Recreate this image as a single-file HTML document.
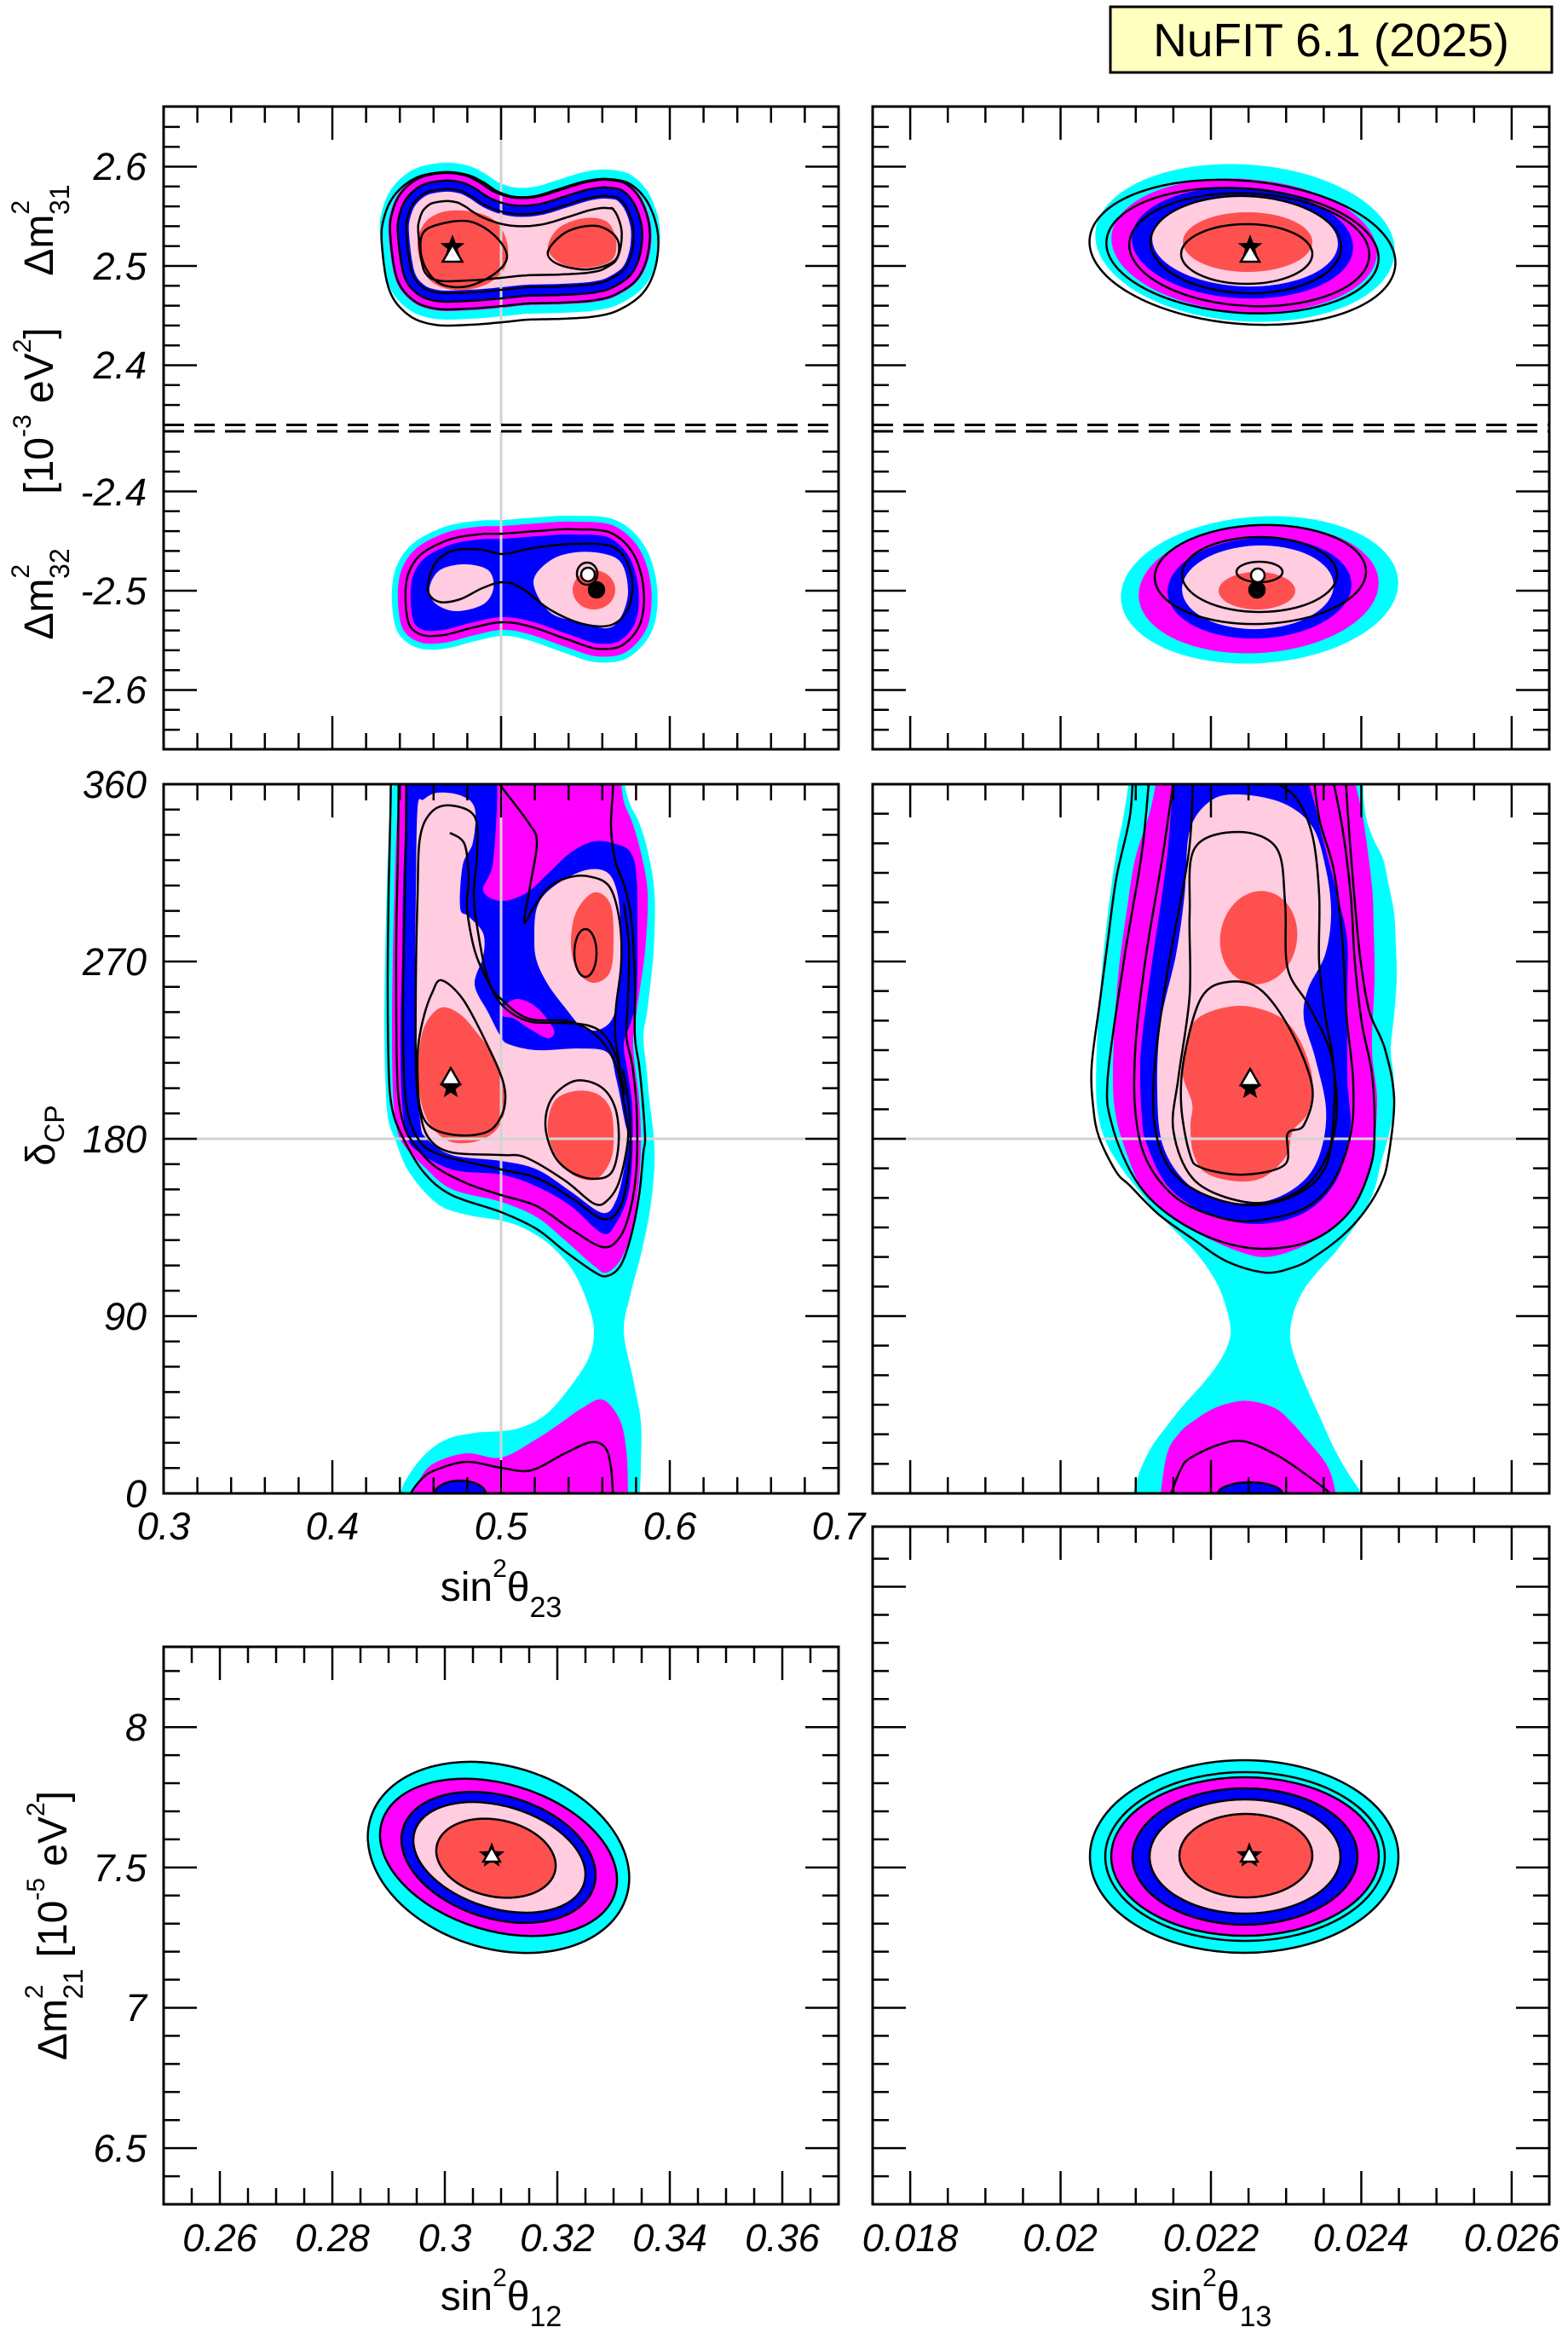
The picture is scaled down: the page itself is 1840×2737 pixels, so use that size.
<!DOCTYPE html>
<html><head><meta charset="utf-8">
<style>
html,body{margin:0;padding:0;background:#fff;}
svg{display:block;}
text{font-family:"Liberation Sans",Arial,sans-serif;fill:#000;}
.tl{font-style:italic;font-size:45px;}
.ax{font-size:48px;}
</style></head><body>
<svg id="s" xmlns="http://www.w3.org/2000/svg" width="1840" height="2737" viewBox="0 0 1840 2737">
<defs>
<clipPath id="cA"><rect x="192" y="125" width="792" height="373"/></clipPath>
<clipPath id="cB"><rect x="192" y="506" width="792" height="373"/></clipPath>
<clipPath id="cC"><rect x="1024" y="125" width="794" height="373"/></clipPath>
<clipPath id="cD"><rect x="1024" y="506" width="794" height="373"/></clipPath>
<clipPath id="cE"><rect x="192" y="920" width="792" height="832"/></clipPath>
<clipPath id="cF"><rect x="1024" y="920" width="794" height="832"/></clipPath>
<clipPath id="cG"><rect x="192" y="1932" width="792" height="654"/></clipPath>
<clipPath id="cH"><rect x="1024" y="1791" width="794" height="795"/></clipPath>
</defs>
<rect x="0" y="0" width="1840" height="2737" fill="#fff"/>
<g id="gA" clip-path="url(#cA)"></g>
<g id="gB" clip-path="url(#cB)"></g>
<g id="gC" clip-path="url(#cC)"></g>
<g id="gD" clip-path="url(#cD)"></g>
<g id="gE" clip-path="url(#cE)"></g>
<g id="gF" clip-path="url(#cF)"></g>
<g id="gG" clip-path="url(#cG)"></g>
<g id="gH" clip-path="url(#cH)"></g>
<g id="frames" fill="none" stroke="#000" stroke-linecap="butt"></g>

<!-- title box -->
<rect x="1303" y="8" width="518" height="77" fill="#ffffc0" stroke="#000" stroke-width="3"/>
<text x="1562" y="66" text-anchor="middle" font-size="55">NuFIT 6.1 (2025)</text>

<!-- top-left y labels -->
<text class="tl" x="172" y="211" text-anchor="end">2.6</text>
<text class="tl" x="172" y="328" text-anchor="end">2.5</text>
<text class="tl" x="172" y="444" text-anchor="end">2.4</text>
<text class="tl" x="172" y="593" text-anchor="end">-2.4</text>
<text class="tl" x="172" y="709" text-anchor="end">-2.5</text>
<text class="tl" x="172" y="825" text-anchor="end">-2.6</text>

<!-- middle-left y labels -->
<text class="tl" x="172" y="936" text-anchor="end">360</text>
<text class="tl" x="172" y="1144" text-anchor="end">270</text>
<text class="tl" x="172" y="1352" text-anchor="end">180</text>
<text class="tl" x="172" y="1560" text-anchor="end">90</text>
<text class="tl" x="172" y="1768" text-anchor="end">0</text>

<!-- middle-left x labels -->
<text class="tl" x="192" y="1806" text-anchor="middle">0.3</text>
<text class="tl" x="390" y="1806" text-anchor="middle">0.4</text>
<text class="tl" x="588" y="1806" text-anchor="middle">0.5</text>
<text class="tl" x="786" y="1806" text-anchor="middle">0.6</text>
<text class="tl" x="984" y="1806" text-anchor="middle">0.7</text>

<!-- bottom-left y labels -->
<text class="tl" x="172" y="2042" text-anchor="end">8</text>
<text class="tl" x="172" y="2207" text-anchor="end">7.5</text>
<text class="tl" x="172" y="2371" text-anchor="end">7</text>
<text class="tl" x="172" y="2536" text-anchor="end">6.5</text>

<!-- bottom-left x labels -->
<text class="tl" x="258" y="2641" text-anchor="middle">0.26</text>
<text class="tl" x="390" y="2641" text-anchor="middle">0.28</text>
<text class="tl" x="522" y="2641" text-anchor="middle">0.3</text>
<text class="tl" x="654" y="2641" text-anchor="middle">0.32</text>
<text class="tl" x="786" y="2641" text-anchor="middle">0.34</text>
<text class="tl" x="918" y="2641" text-anchor="middle">0.36</text>

<!-- bottom-right x labels -->
<text class="tl" x="1068" y="2641" text-anchor="middle">0.018</text>
<text class="tl" x="1244" y="2641" text-anchor="middle">0.02</text>
<text class="tl" x="1421" y="2641" text-anchor="middle">0.022</text>
<text class="tl" x="1597" y="2641" text-anchor="middle">0.024</text>
<text class="tl" x="1774" y="2641" text-anchor="middle">0.026</text>

<!-- x axis titles -->
<text class="ax" x="588" y="1878" text-anchor="middle">sin<tspan font-size="30" dy="-28">2</tspan><tspan dy="28">θ</tspan><tspan font-size="34" dy="19">23</tspan></text>
<text class="ax" x="588" y="2710" text-anchor="middle">sin<tspan font-size="30" dy="-28">2</tspan><tspan dy="28">θ</tspan><tspan font-size="34" dy="19">12</tspan></text>
<text class="ax" x="1421" y="2710" text-anchor="middle">sin<tspan font-size="30" dy="-28">2</tspan><tspan dy="28">θ</tspan><tspan font-size="34" dy="19">13</tspan></text>

<!-- y axis titles (rotated) -->
<text class="ax" text-anchor="middle" transform="translate(62,270) rotate(-90)">Δm<tspan font-size="30" dy="-28">2</tspan><tspan font-size="32" dx="-17" dy="47">31</tspan></text>
<text class="ax" text-anchor="middle" transform="translate(62,482) rotate(-90)">[10<tspan font-size="30" dy="-26">-3</tspan><tspan dy="26"> eV</tspan><tspan font-size="30" dy="-26">2</tspan><tspan dy="26">]</tspan></text>
<text class="ax" text-anchor="middle" transform="translate(62,697) rotate(-90)">Δm<tspan font-size="30" dy="-28">2</tspan><tspan font-size="32" dx="-17" dy="47">32</tspan></text>
<text class="ax" text-anchor="middle" transform="translate(64,1332) rotate(-90)">δ<tspan font-size="32" dy="11">CP</tspan></text>
<text class="ax" text-anchor="middle" transform="translate(78,2259) rotate(-90)">Δm<tspan font-size="30" dy="-28">2</tspan><tspan font-size="32" dx="-17" dy="47">21</tspan><tspan dy="-19"> [10</tspan><tspan font-size="30" dy="-26">-5</tspan><tspan dy="26"> eV</tspan><tspan font-size="30" dy="-26">2</tspan><tspan dy="26">]</tspan></text>
</svg>
<script>
(function(){
var NS='http://www.w3.org/2000/svg';
var C='#00ffff',M='#ff00ff',B='#0000ff',P='#ffcce0',R='#ff5050',K='#000',GR='#d3d3d3';
function $(id){return document.getElementById(id);}
function add(par,tag,at){var e=document.createElementNS(NS,tag);for(var k in at)e.setAttribute(k,at[k]);par.appendChild(e);return e;}
function ctrl(p,cl){var n=p.length,s=[],N=cl?n:n-1;for(var i=0;i<N;i++){var p0=p[cl?(i-1+n)%n:Math.max(0,i-1)],p1=p[i],p2=p[(i+1)%n],p3=p[cl?(i+2)%n:Math.min(n-1,i+2)];s.push([p1,[p1[0]+(p2[0]-p0[0])/6,p1[1]+(p2[1]-p0[1])/6],[p2[0]-(p3[0]-p1[0])/6,p2[1]-(p3[1]-p1[1])/6],p2]);}return s;}
function f(v){return (+v).toFixed(1);}
function bez(p,cl){var s=ctrl(p,cl);var d='M'+f(s[0][0][0])+' '+f(s[0][0][1]);for(var i=0;i<s.length;i++){var q=s[i];d+='C'+f(q[1][0])+' '+f(q[1][1])+' '+f(q[2][0])+' '+f(q[2][1])+' '+f(q[3][0])+' '+f(q[3][1]);}return d+(cl?'Z':'');}
function sample(p,per){var s=ctrl(p,true),o=[];for(var j=0;j<s.length;j++){var q=s[j];for(var k=0;k<per;k++){var t=k/per,u=1-t,a=u*u*u,b=3*u*u*t,c=3*u*t*t,e=t*t*t;o.push([a*q[0][0]+b*q[1][0]+c*q[2][0]+e*q[3][0],a*q[0][1]+b*q[1][1]+c*q[2][1]+e*q[3][1]]);}}return o;}
function offs(poly,d,dy){var n=poly.length,A=0;for(var i=0;i<n;i++){var a=poly[i],b=poly[(i+1)%n];A+=a[0]*b[1]-b[0]*a[1];}var sg=A>0?1:-1;return poly.map(function(p,i){var a=poly[(i-1+n)%n],b=poly[(i+1)%n];var tx=b[0]-a[0],ty=b[1]-a[1];var L=Math.sqrt(tx*tx+ty*ty)||1;tx/=L;ty/=L;return [p[0]-sg*ty*d,p[1]+sg*tx*d+(dy||0)];});}
function pd(poly){return 'M'+poly.map(function(q){return f(q[0])+' '+f(q[1]);}).join('L')+'Z';}
function fillC(par,p,col){add(par,'path',{d:bez(p,true),fill:col});}
function fillPoly(par,poly,col){add(par,'path',{d:pd(poly),fill:col});}
function strokePoly(par,poly,w){add(par,'path',{d:pd(poly),fill:'none',stroke:K,'stroke-width':w||2.5,'stroke-linejoin':'round'});}
function lineC(par,p,cl,w){add(par,'path',{d:bez(p,cl),fill:'none',stroke:K,'stroke-width':w||2.5,'stroke-linejoin':'round'});}
function ell(par,cx,cy,rx,ry,rot,fill,stroke){var at={cx:cx,cy:cy,rx:rx,ry:ry,fill:fill||'none'};if(rot)at.transform='rotate('+rot+' '+cx+' '+cy+')';if(stroke){at.stroke=K;at['stroke-width']=stroke;}return add(par,'ellipse',at);}
function star(par,cx,cy,r){var d='';for(var i=0;i<10;i++){var rr=i%2?r*0.42:r,a=-Math.PI/2+i*Math.PI/5;d+=(i?'L':'M')+f(cx+rr*Math.cos(a))+' '+f(cy+rr*Math.sin(a));}add(par,'path',{d:d+'Z',fill:K});}
function tri(par,cx,ay,h){var w=h/Math.sqrt(3);add(par,'path',{d:'M'+cx+' '+ay+'L'+f(cx+w)+' '+(ay+h)+'L'+f(cx-w)+' '+(ay+h)+'Z',fill:'#fff',stroke:K,'stroke-width':2.5});}
function dot(par,cx,cy,r,fill){add(par,'circle',{cx:cx,cy:cy,r:r,fill:fill,stroke:K,'stroke-width':2.5});}
function gl(par,x1,y1,x2,y2){add(par,'line',{x1:x1,y1:y1,x2:x2,y2:y2,stroke:GR,'stroke-width':3});}

/* ---------- Panel A: top-left upper ---------- */
var gA=$('gA');
var A0=[[446,276],[449,245],[462,218],[487,198],[520,191],[548,194],[568,203],[585,214],[605,220],[628,219],[655,211],[685,202],[712,199],[740,205],[762,228],[774,265],[771,305],[756,336],[728,356],[700,364],[660,367],[620,368],[590,371],[552,374],[510,374],[478,362],[455,332]];
var sA=sample(A0,16);
fillPoly(gA,sA,C);fillPoly(gA,offs(sA,10),M);fillPoly(gA,offs(sA,20),B);fillPoly(gA,offs(sA,34),P);
fillC(gA,[[490,290],[498,262],[522,248],[558,249],[584,262],[596,290],[590,318],[565,336],[530,340],[502,326]],R);
fillC(gA,[[643,292],[655,268],[685,256],[712,260],[723,282],[718,305],[690,314],[660,310]],R);
gl(gA,588,120,588,500);
[[2,9],[12,0],[21,0],[31,0],[45,0]].forEach(function(o){strokePoly(gA,offs(sA,o[0],o[1]));});
lineC(gA,[[496,274],[520,262],[552,260],[580,276],[595,300],[582,320],[548,336],[515,332],[496,306]],true);
lineC(gA,[[643,295],[665,272],[700,265],[724,280],[722,305],[690,316],[655,310]],true);
star(gA,531,290,15);tri(gA,531,287,20);

/* ---------- Panel B: top-left lower ---------- */
var gB=$('gB');
var B0=[[460,706],[464,668],[484,638],[522,618],[560,611],[590,610],[630,607],[672,605],[722,610],[756,640],[771,688],[766,738],[738,771],[700,777],[660,765],[620,751],[590,746],[558,752],[522,761],[490,760],[467,742]];
var sB=sample(B0,16);
fillPoly(gB,sB,C);fillPoly(gB,offs(sB,7),M);fillPoly(gB,offs(sB,22),B);
fillC(gB,[[504,690],[516,669],[545,662],[573,669],[579,690],[567,709],[535,717],[511,708]],P);
fillC(gB,[[626,683],[645,658],[675,648],[710,650],[730,662],[737,695],[728,725],[712,737],[680,730],[645,718]],P);
ell(gB,697,692,25,23,0,R);
gl(gB,588,500,588,885);
strokePoly(gB,offs(sB,16));
lineC(gB,[[502,692],[510,662],[532,646],[565,645],[590,650],[625,643],[675,638],[722,643],[741,675],[738,712],[718,733],[684,732],[645,715],[612,690],[590,683],[566,690],[540,703],[515,706]],true);
ell(gB,689,673,12,13,0,null,2.5);
dot(gB,700,692,9,K);dot(gB,690,674,8,'#fff');

/* ---------- Panel C: top-right upper ---------- */
var gC=$('gC');
ell(gC,1461,285,176,92,4,C);ell(gC,1460,288,156,78,4,M);ell(gC,1458,285,130,65,3,B);ell(gC,1461,283,109,53,2,P);ell(gC,1464,284,76,35,0,R);
ell(gC,1458,296,180,84,5,null,2.5);ell(gC,1458,294,160,73,4,null,2.5);ell(gC,1466,293,141,66,3,null,2.5);ell(gC,1462,287,112,57,2,null,2.5);ell(gC,1463,298,77,35,0,null,2.5);
star(gC,1467,290,15);tri(gC,1467,288,19);

/* ---------- Panel D: top-right lower ---------- */
var gD=$('gD');
ell(gD,1478,692,163,86,-4,C);ell(gD,1477,691,141,75,-4,M);ell(gD,1478,690,108,59,-3,B);ell(gD,1476,689,89,49,-2,P);ell(gD,1475,693,45,22,0,R);
ell(gD,1479,674,124,58,-2,null,2.5);ell(gD,1478,674,91,44,0,null,2.5);ell(gD,1478,671,27,12,0,null,2.5);
dot(gD,1475,692,9,K);dot(gD,1476,675,8,'#fff');

/* ---------- Panel E: middle-left ---------- */
var gE=$('gE');
fillC(gE,[[462,880],[462,905],[457,960],[454,1040],[452,1120],[451,1200],[452,1260],[455,1310],[463,1335],[480,1375],[513,1412],[547,1425],[588,1432],[617,1442],[647,1462],[673,1492],[690,1530],[697,1562],[690,1595],[663,1635],[637,1662],[603,1677],[557,1681],[523,1689],[497,1708],[477,1735],[470,1752],[468,1770],[468,1800],[750,1800],[751,1770],[751,1752],[752,1720],[752,1668],[743,1618],[732,1562],[740,1518],[753,1468],[763,1418],[768,1368],[767,1332],[762,1290],[758,1248],[755,1215],[760,1182],[767,1115],[768,1048],[760,998],[750,965],[740,945],[734,925],[732,905],[732,880]],C);
fillC(gE,[[472,880],[472,905],[466,960],[463,1040],[461,1120],[460,1200],[461,1280],[465,1320],[473,1342],[497,1368],[530,1395],[588,1410],[630,1428],[663,1455],[697,1485],[712,1493],[730,1475],[743,1435],[750,1385],[752,1335],[750,1290],[745,1250],[743,1220],[748,1180],[757,1115],[760,1048],[752,1000],[742,965],[732,940],[728,905],[728,880]],M);
fillC(gE,[[478,1800],[478,1770],[484,1752],[490,1740],[507,1718],[547,1705],[588,1710],[630,1688],[660,1668],[683,1652],[707,1642],[727,1665],[735,1702],[737,1752],[737,1770],[737,1800]],M);
fillC(gE,[[478,880],[583,880],[583,905],[583,948],[578,1015],[567,1045],[588,1057],[617,1048],[643,1025],[670,1000],[697,987],[722,990],[740,1000],[747,1030],[748,1100],[747,1170],[740,1200],[732,1225],[737,1260],[742,1300],[742,1355],[737,1402],[723,1435],[707,1447],[670,1415],[630,1392],[588,1378],[530,1372],[487,1348],[476,1325],[471,1280],[470,1200],[472,1120],[473,1040],[476,960],[478,905]],B);
fillC(gE,[[590,1182],[607,1172],[630,1182],[650,1208],[643,1218],[623,1208],[603,1195],[590,1192]],M);
fillC(gE,[[497,938],[513,930],[540,933],[557,948],[555,988],[543,1015],[540,1065],[550,1075],[567,1095],[567,1122],[557,1155],[573,1188],[587,1215],[597,1225],[630,1232],[680,1230],[713,1235],[723,1265],[733,1315],[737,1335],[733,1368],[723,1408],[707,1423],[670,1398],[630,1372],[588,1362],[530,1355],[500,1335],[493,1315],[488,1248],[487,1148],[488,1048],[490,948]],P);
fillC(gE,[[630,1065],[647,1042],[683,1022],[710,1022],[723,1042],[728,1082],[727,1148],[720,1192],[703,1208],[683,1205],[663,1182],[643,1155],[630,1128],[627,1102]],P);
fillC(gE,[[492,1232],[500,1200],[518,1182],[540,1190],[560,1212],[580,1240],[593,1275],[592,1305],[580,1328],[555,1340],[525,1338],[502,1315],[492,1280]],R);
fillC(gE,[[643,1315],[652,1290],[675,1280],[700,1283],[716,1300],[720,1330],[717,1360],[700,1383],[675,1380],[655,1360],[645,1338]],R);
fillC(gE,[[670,1108],[676,1070],[697,1047],[716,1060],[720,1100],[716,1140],[697,1153],[678,1140]],R);
ell(gE,540,1753,30,16,0,B,2.5);
gl(gE,588,915,588,1757);gl(gE,187,1336,989,1336);
lineC(gE,[[459,895],[458,960],[456,1050],[455,1150],[456,1250],[460,1300],[473,1335],[497,1375],[530,1402],[588,1422],[630,1442],[663,1468],[697,1492],[712,1497],[728,1485],[740,1452],[750,1402],[755,1352],[757,1335],[754,1290],[750,1250],[745,1215],[745,1150],[741,1080],[733,1040],[722,1010],[717,970],[719,930],[720,895]],false);
lineC(gE,[[468,895],[467,1000],[465,1100],[465,1200],[467,1280],[474,1320],[486,1342],[510,1368],[547,1388],[588,1402],[630,1415],[670,1442],[707,1463],[727,1452],[740,1418],[747,1368],[747,1300],[742,1250],[735,1215],[737,1170],[738,1110],[732,1060]],false);
lineC(gE,[[477,895],[476,1000],[474,1100],[473,1200],[476,1290],[490,1335],[517,1355],[588,1372],[630,1382],[670,1405],[707,1430],[727,1418],[737,1378],[740,1335],[737,1290],[731,1255]],false);
lineC(gE,[[530,945],[557,958],[560,1000],[556,1050],[562,1100],[573,1150],[588,1172],[620,1195],[667,1198],[700,1215],[723,1250],[733,1300],[737,1335],[727,1385],[713,1408],[697,1412],[663,1385],[617,1358],[588,1355],[530,1352],[503,1335],[492,1300],[488,1248],[488,1150],[490,1050],[493,982],[507,952]],true);
lineC(gE,[[577,905],[590,925],[620,965],[630,988],[622,1040],[615,1082],[628,1062],[643,1042],[665,1030],[690,1028],[715,1040],[727,1080],[729,1130],[723,1180],[722,1215],[728,1255]],false);
lineC(gE,[[528,977],[545,990],[550,1030],[548,1065],[557,1115],[572,1150],[590,1180],[620,1198],[660,1200],[690,1203],[710,1215],[725,1245],[733,1285]],false);
lineC(gE,[[518,1150],[543,1172],[570,1222],[590,1268],[592,1298],[580,1322],[560,1331],[530,1331],[505,1322],[493,1300],[490,1260],[491,1225],[498,1190],[507,1165]],true);
lineC(gE,[[640,1320],[648,1288],[675,1268],[705,1275],[722,1300],[726,1340],[718,1375],[697,1383],[670,1375],[650,1355]],true);
ell(gE,687,1118,13,28,0,null,2.5);
lineC(gE,[[478,1765],[482,1752],[495,1735],[510,1725],[547,1715],[588,1722],[623,1725],[663,1705],[693,1692],[710,1698],[717,1722],[720,1765]],false);
star(gE,529,1276,14);tri(gE,529,1253,19);

/* ---------- Panel F: middle-right ---------- */
var gF=$('gF');
fillC(gF,[[1326,880],[1326,905],[1318,960],[1310,1000],[1300,1072],[1292,1150],[1287,1231],[1287,1295],[1296,1335],[1313,1366],[1335,1395],[1358,1423],[1380,1445],[1402,1468],[1420,1492],[1434,1519],[1444,1557],[1440,1580],[1428,1602],[1410,1625],[1390,1647],[1370,1672],[1351,1698],[1338,1725],[1330,1752],[1328,1770],[1328,1800],[1598,1800],[1598,1770],[1597,1752],[1580,1725],[1565,1698],[1550,1665],[1536,1634],[1522,1600],[1514,1570],[1518,1540],[1530,1513],[1548,1490],[1568,1468],[1585,1445],[1600,1423],[1613,1395],[1620,1366],[1630,1330],[1636,1295],[1635,1260],[1632,1231],[1636,1190],[1639,1148],[1638,1110],[1636,1072],[1630,1040],[1623,1008],[1612,985],[1604,963],[1600,935],[1600,905],[1600,880]],C);
fillC(gF,[[1358,880],[1358,905],[1350,950],[1332,1008],[1322,1070],[1313,1136],[1308,1200],[1306,1263],[1308,1300],[1316,1335],[1338,1391],[1365,1420],[1396,1442],[1453,1468],[1492,1474],[1543,1455],[1581,1423],[1607,1372],[1616,1295],[1610,1231],[1613,1148],[1612,1090],[1610,1040],[1600,963],[1591,920],[1591,905],[1591,880]],M);
fillC(gF,[[1361,1800],[1361,1770],[1362,1752],[1370,1704],[1385,1680],[1402,1666],[1425,1652],[1453,1644],[1475,1645],[1498,1653],[1515,1668],[1530,1685],[1556,1717],[1566,1745],[1568,1770],[1568,1800]],M);
fillC(gF,[[1377,880],[1377,905],[1372,980],[1365,1040],[1351,1136],[1340,1220],[1338,1263],[1340,1310],[1345,1340],[1370,1391],[1415,1423],[1473,1436],[1530,1423],[1568,1385],[1584,1327],[1583,1290],[1581,1263],[1581,1168],[1581,1104],[1572,1060],[1562,1021],[1550,975],[1543,944],[1532,905],[1530,880]],B);
fillC(gF,[[1453,932],[1505,942],[1540,970],[1556,1020],[1562,1072],[1555,1120],[1535,1160],[1530,1195],[1543,1240],[1556,1300],[1550,1350],[1530,1385],[1490,1408],[1440,1410],[1396,1391],[1365,1345],[1358,1280],[1362,1200],[1380,1120],[1390,1050],[1396,975],[1420,940]],P);
ell(gF,1477,1100,45,55,10,R);
fillC(gF,[[1390,1231],[1405,1195],[1453,1180],[1500,1192],[1525,1220],[1540,1265],[1535,1305],[1517,1327],[1510,1355],[1485,1380],[1453,1386],[1415,1376],[1400,1352],[1397,1320],[1399,1295],[1388,1262]],R);
ell(gF,1467,1753,38,14,0,B,2.5);
gl(gF,1019,1336,1823,1336);
lineC(gF,[[1330,895],[1326,957],[1310,1030],[1300,1104],[1290,1180],[1281,1251],[1283,1300],[1290,1335],[1310,1375],[1326,1391],[1360,1425],[1402,1455],[1440,1480],[1485,1493],[1520,1486],[1543,1474],[1575,1450],[1600,1423],[1620,1390],[1629,1359],[1636,1289],[1625,1230],[1607,1187],[1597,1130],[1591,1072],[1585,1000],[1581,944],[1578,895]],false);
lineC(gF,[[1350,895],[1340,1000],[1320,1120],[1300,1263],[1305,1320],[1330,1380],[1365,1420],[1420,1452],[1479,1465],[1540,1455],[1585,1420],[1608,1370],[1613,1327],[1610,1260],[1598,1200],[1590,1130],[1585,1050],[1575,970],[1560,895]],false);
lineC(gF,[[1380,895],[1365,1000],[1345,1120],[1333,1220],[1332,1300],[1345,1360],[1380,1405],[1430,1428],[1473,1432],[1530,1418],[1565,1385],[1585,1330],[1588,1270],[1580,1190],[1575,1100],[1565,1020],[1548,960],[1540,895]],false);
lineC(gF,[[1400,905],[1395,1000],[1370,1140],[1355,1250],[1355,1320],[1372,1370],[1410,1400],[1466,1414],[1520,1402],[1555,1370],[1565,1310],[1565,1250],[1555,1190],[1548,1130],[1548,1050],[1540,980],[1520,935],[1490,915]],false);
lineC(gF,[[1402,995],[1453,976],[1498,995],[1508,1059],[1511,1136],[1536,1180],[1562,1238],[1568,1314],[1549,1372],[1511,1404],[1460,1410],[1402,1385],[1377,1327],[1383,1263],[1396,1168],[1396,1072]],true);
lineC(gF,[[1390,1238],[1410,1170],[1441,1152],[1479,1161],[1515,1210],[1540,1276],[1530,1320],[1511,1330],[1508,1366],[1460,1378],[1410,1370],[1396,1353],[1386,1295]],true);
lineC(gF,[[1370,1765],[1374,1753],[1385,1725],[1396,1711],[1430,1695],[1460,1691],[1498,1707],[1530,1728],[1562,1753],[1568,1765]],false);
star(gF,1467,1277,14);tri(gF,1467,1254,19);

/* ---------- Panel G: bottom-left ---------- */
var gG=$('gG');
ell(gG,585,2179,157,107,17,C,2.5);ell(gG,585,2179,143,86,17,M,2.5);ell(gG,585,2179,117,72,17,B,2.5);ell(gG,586,2179,104,60,17,P,2.5);ell(gG,582,2180,71,45,12,R,2.5);
star(gG,577,2177,16);tri(gG,577,2167,17);

/* ---------- Panel H: bottom-right ---------- */
var gH=$('gH');
ell(gH,1460,2178,181,113,0,C,2.5);ell(gH,1461,2178,157,93,0,M,2.5);ell(gH,1461,2178,132,80,0,B,2.5);ell(gH,1461,2178,112,67,0,P,2.5);ell(gH,1462,2177,78,49,0,R,2.5);
ell(gH,1461,2178,164,99,0,null,2.5);
star(gH,1466,2177,16);tri(gH,1466,2167,17);

/* ---------- Frames and ticks ---------- */
var F=$('frames');
function ln(x1,y1,x2,y2,w,da){var at={x1:x1,y1:y1,x2:x2,y2:y2,'stroke-width':w||2.5};if(da)at['stroke-dasharray']=da;add(F,'line',at);}
function rect(x0,y0,x1,y1){add(F,'rect',{x:x0,y:y0,width:x1-x0,height:y1-y0,'stroke-width':3});}
function xt(x,yT,yB,maj){var L=maj?39:19;if(yT!==null)ln(x,yT,x,yT+L);if(yB!==null)ln(x,yB,x,yB-L);}
function yt(y,xL,xR,maj){var L=maj?39:19;ln(xL,y,xL+L,y);ln(xR,y,xR-L,y);}
var X1=function(s){return 192+(s-0.3)*1980;};
var X2=function(t){return 1024+(t-0.0175)*88222.2;};
var X3=function(s){return 192+(s-0.25)*6600;};
var YU=function(v){return 312-(v-2.5)*1165;};
var YL=function(v){return 693-(v+2.5)*1165;};
var YM=function(d){return 1752-d*832/360;};
var YB=function(v){return 2586-(v-6.3)*329.3;};
var k;
for(k=1;k<20;k++){var x=X1(0.3+0.02*k),mj=(k%5===0);xt(x,125,879,mj);xt(x,920,1752,mj);}
for(k=1;k<18;k++){var x2=X2(0.0175+0.0005*k),mj2=((k-1)%4===0);xt(x2,125,879,mj2);xt(x2,920,1752,mj2);xt(x2,1791,2586,mj2);}
for(k=1;k<24;k++){xt(X3(0.25+0.005*k),1932,2586,((k-2)%4===0));}
for(k=1;k<16;k++){var m3=((k-3)%5===0);var yu=YU(2.34+0.02*k),yl=YL(-2.66+0.02*k);yt(yu,192,984,m3);yt(yl,192,984,m3);yt(yu,1024,1818,m3);yt(yl,1024,1818,m3);}
for(k=1;k<28;k++){yt(YM(k*90/7),192,984,(k%7===0));}
for(k=1;k<24;k++){yt(YM(k*15),1024,1818,(k%6===0));}
for(k=1;k<20;k++){yt(YB(6.3+0.1*k),192,984,((k-2)%5===0));}
for(k=1;k<24;k++){yt(YB(6.3+0.1*k),1024,1818,((k-2)%5===0));}
rect(192,125,984,879);rect(1024,125,1818,879);
ln(192,498.5,984,498.5,3,'24 12');ln(192,506,984,506,3,'24 12');
ln(1024,498.5,1818,498.5,3,'24 12');ln(1024,506,1818,506,3,'24 12');
rect(192,920,984,1752);rect(1024,920,1818,1752);
rect(192,1932,984,2586);rect(1024,1791,1818,2586);
})();
</script>
</body></html>
